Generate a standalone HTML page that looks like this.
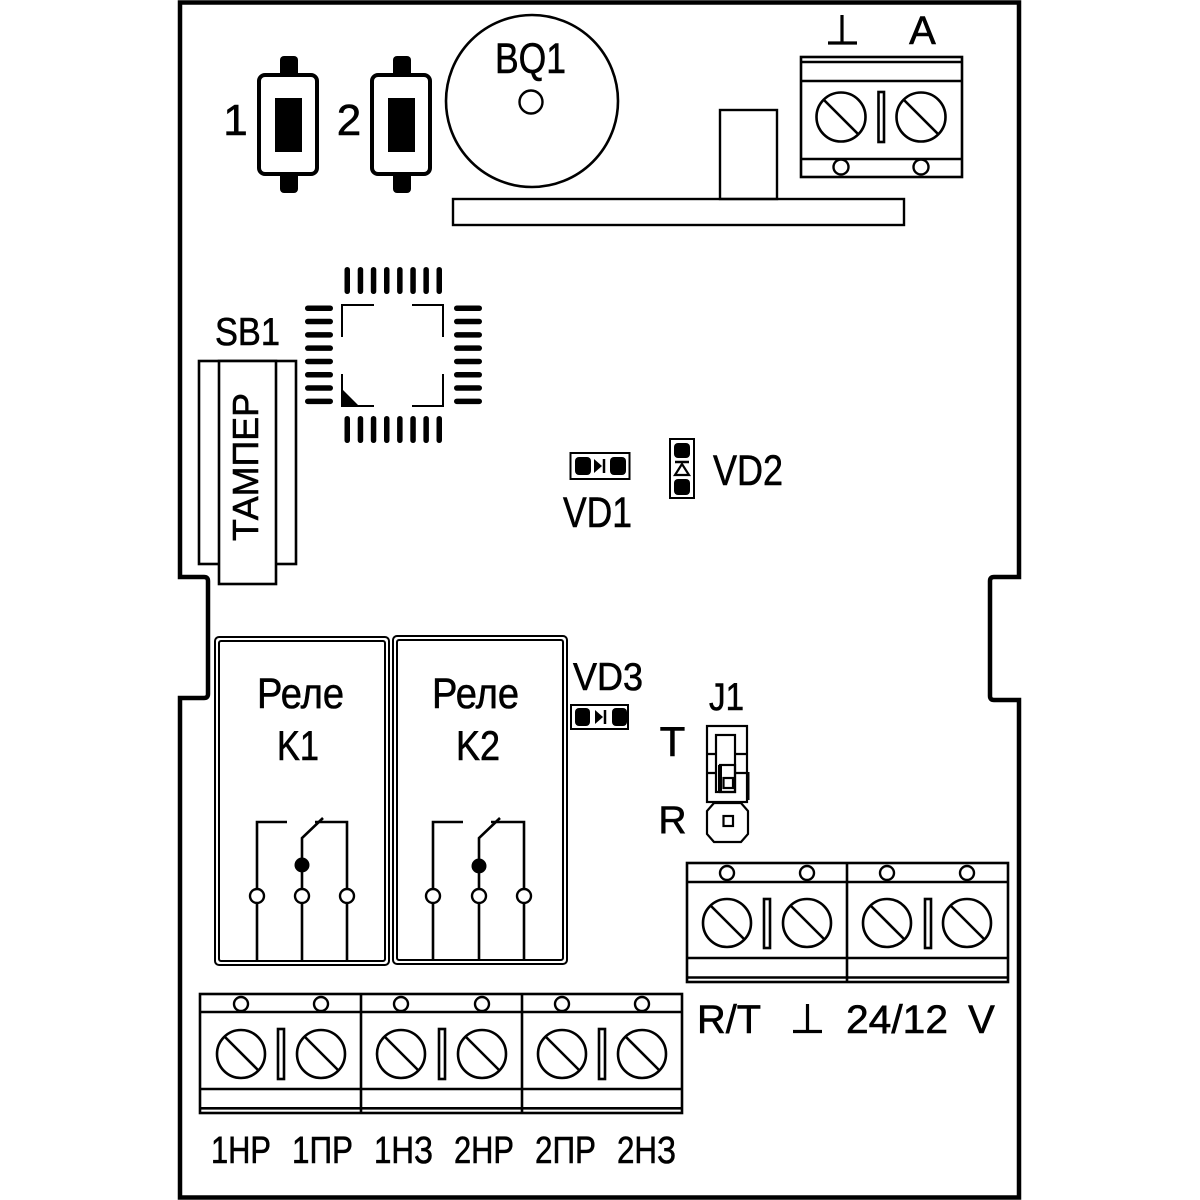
<!DOCTYPE html>
<html><head><meta charset="utf-8"><style>
html,body{margin:0;padding:0;background:#fff;}
svg{display:block;}
text{font-family:"Liberation Sans",Arial,sans-serif;fill:#000;stroke:#000;stroke-width:0.6px;}
</style></head><body>
<svg width="1200" height="1200" viewBox="0 0 1200 1200" xmlns="http://www.w3.org/2000/svg">
<rect width="1200" height="1200" fill="#fff"/>
<!-- board outline -->
<path d="M180,2.5 H1019 V577 H994 Q990,577 990,581 V696 Q990,700 994,700 H1019 V1197.5 H180 V698 H204 Q208,698 208,694 V581 Q208,577 204,577 H180 Z" fill="none" stroke="#000" stroke-width="4.5"/>

<!-- buttons -->
<g fill="#000">
<rect x="280" y="56" width="18" height="22" rx="4"/>
<rect x="280" y="170" width="18" height="23" rx="4"/>
<rect x="393" y="56" width="18" height="22" rx="4"/>
<rect x="393" y="170" width="18" height="23" rx="4"/>
</g>
<rect x="259" y="75" width="58" height="99" rx="6" fill="#fff" stroke="#000" stroke-width="4"/>
<rect x="372" y="75" width="58" height="99" rx="6" fill="#fff" stroke="#000" stroke-width="4"/>
<rect x="275" y="98" width="27" height="54" fill="#000"/>
<rect x="388" y="98" width="27" height="54" fill="#000"/>
<text x="235.5" y="135" font-size="44" text-anchor="middle">1</text>
<text x="349" y="135" font-size="44" text-anchor="middle">2</text>

<!-- BQ1 -->
<circle cx="532" cy="101" r="86" fill="none" stroke="#000" stroke-width="2.6"/>
<circle cx="531" cy="102" r="11.5" fill="none" stroke="#000" stroke-width="2.4"/>
<text x="495" y="73" font-size="43" textLength="71" lengthAdjust="spacingAndGlyphs">BQ1</text>
<rect x="453" y="199" width="451" height="26" fill="none" stroke="#000" stroke-width="2.4"/>
<rect x="720" y="110" width="57" height="89" fill="none" stroke="#000" stroke-width="2.4"/>

<!-- top terminal -->
<g fill="none" stroke="#000" stroke-width="2.6">
<rect x="801" y="57" width="161" height="120"/>
<line x1="801" y1="62" x2="962" y2="62"/>
<line x1="801" y1="81" x2="962" y2="81"/>
<line x1="801" y1="159" x2="962" y2="159"/>
<circle cx="841" cy="117" r="24.5"/>
<circle cx="921" cy="117" r="24.5"/>
<line x1="824" y1="100" x2="858" y2="134"/>
<line x1="904" y1="100" x2="938" y2="134"/>
<rect x="878.5" y="92" width="5.5" height="50"/>
</g>
<circle cx="841" cy="167" r="7.5" fill="#fff" stroke="#000" stroke-width="2.4"/>
<circle cx="921" cy="167" r="7.5" fill="#fff" stroke="#000" stroke-width="2.4"/>
<g stroke="#000" stroke-width="3.2" fill="none">
<line x1="842" y1="15" x2="842" y2="43"/>
<line x1="828" y1="43" x2="857" y2="43"/>
</g>
<text x="922.5" y="44" font-size="40" text-anchor="middle">A</text>

<!-- chip -->
<g fill="#000">
<rect x="344.5" y="267" width="5.5" height="27" rx="2.75"/>
<rect x="357.7" y="267" width="5.5" height="27" rx="2.75"/>
<rect x="370.8" y="267" width="5.5" height="27" rx="2.75"/>
<rect x="384" y="267" width="5.5" height="27" rx="2.75"/>
<rect x="397.1" y="267" width="5.5" height="27" rx="2.75"/>
<rect x="410.3" y="267" width="5.5" height="27" rx="2.75"/>
<rect x="423.4" y="267" width="5.5" height="27" rx="2.75"/>
<rect x="436.5" y="267" width="5.5" height="27" rx="2.75"/>
<rect x="344.5" y="416" width="5.5" height="27" rx="2.75"/>
<rect x="357.7" y="416" width="5.5" height="27" rx="2.75"/>
<rect x="370.8" y="416" width="5.5" height="27" rx="2.75"/>
<rect x="384" y="416" width="5.5" height="27" rx="2.75"/>
<rect x="397.1" y="416" width="5.5" height="27" rx="2.75"/>
<rect x="410.3" y="416" width="5.5" height="27" rx="2.75"/>
<rect x="423.4" y="416" width="5.5" height="27" rx="2.75"/>
<rect x="436.5" y="416" width="5.5" height="27" rx="2.75"/>
<rect x="305" y="305.5" width="28" height="5.5" rx="2.75"/>
<rect x="305" y="318.8" width="28" height="5.5" rx="2.75"/>
<rect x="305" y="332.1" width="28" height="5.5" rx="2.75"/>
<rect x="305" y="345.4" width="28" height="5.5" rx="2.75"/>
<rect x="305" y="358.7" width="28" height="5.5" rx="2.75"/>
<rect x="305" y="372" width="28" height="5.5" rx="2.75"/>
<rect x="305" y="385.3" width="28" height="5.5" rx="2.75"/>
<rect x="305" y="398.6" width="28" height="5.5" rx="2.75"/>
<rect x="454" y="305.5" width="28" height="5.5" rx="2.75"/>
<rect x="454" y="318.8" width="28" height="5.5" rx="2.75"/>
<rect x="454" y="332.1" width="28" height="5.5" rx="2.75"/>
<rect x="454" y="345.4" width="28" height="5.5" rx="2.75"/>
<rect x="454" y="358.7" width="28" height="5.5" rx="2.75"/>
<rect x="454" y="372" width="28" height="5.5" rx="2.75"/>
<rect x="454" y="385.3" width="28" height="5.5" rx="2.75"/>
<rect x="454" y="398.6" width="28" height="5.5" rx="2.75"/>
<polygon points="342,389 359,406 342,406"/>
</g>
<g fill="none" stroke="#000" stroke-width="2">
<polyline points="342,337 342,305 374,305"/>
<polyline points="412,305 443,305 443,337"/>
<polyline points="443,374 443,406 412,406"/>
<polyline points="342,374 342,406 374,406"/>
</g>

<!-- SB1 tamper -->
<text x="215" y="345" font-size="39" textLength="65" lengthAdjust="spacingAndGlyphs">SB1</text>
<rect x="199" y="361" width="97" height="203" fill="none" stroke="#000" stroke-width="2.6"/>
<rect x="219" y="361" width="57" height="223" fill="#fff" stroke="#000" stroke-width="2.6"/>
<text transform="translate(258,541) rotate(-90)" x="0" y="0" font-size="36" textLength="148" lengthAdjust="spacingAndGlyphs">ТАМПЕР</text>

<!-- VD1 -->
<rect x="570.5" y="453" width="59" height="26" fill="none" stroke="#000" stroke-width="2"/>
<rect x="575" y="457" width="16" height="18" rx="4" fill="#000"/>
<rect x="610" y="457" width="16" height="18" rx="4" fill="#000"/>
<polygon points="594,459 594,473 602,466" fill="#000"/>
<line x1="604" y1="459" x2="604" y2="473" stroke="#000" stroke-width="2.5"/>
<text x="563" y="527" font-size="43" textLength="69" lengthAdjust="spacingAndGlyphs">VD1</text>

<!-- VD2 -->
<rect x="670" y="439" width="24" height="59" fill="none" stroke="#000" stroke-width="2"/>
<rect x="674" y="443" width="16" height="15" rx="4" fill="#000"/>
<rect x="674" y="479" width="16" height="16" rx="4" fill="#000"/>
<line x1="675" y1="462" x2="689" y2="462" stroke="#000" stroke-width="2.5"/>
<polygon points="682,464 675,475 689,475" fill="none" stroke="#000" stroke-width="2.2"/>
<text x="713" y="485" font-size="43" textLength="70" lengthAdjust="spacingAndGlyphs">VD2</text>

<!-- Relays -->
<g fill="none" stroke="#000" stroke-width="2">
<rect x="215" y="637" width="174" height="328" rx="4"/>
<rect x="219" y="641" width="166" height="320" rx="2"/>
<rect x="393" y="636" width="174" height="328" rx="4"/>
<rect x="397" y="640" width="166" height="320" rx="2"/>
</g>
<text x="257" y="708" font-size="43" textLength="87" lengthAdjust="spacingAndGlyphs">Реле</text>
<text x="277" y="760" font-size="42" textLength="42" lengthAdjust="spacingAndGlyphs">K1</text>
<text x="432" y="708" font-size="43" textLength="87" lengthAdjust="spacingAndGlyphs">Реле</text>
<text x="456" y="760" font-size="42" textLength="44" lengthAdjust="spacingAndGlyphs">K2</text>
<g fill="none" stroke="#000" stroke-width="2.6">
<polyline points="257,960 257,822 287,822"/>
<polyline points="315,822 347,822 347,960"/>
<polyline points="302,960 302,838 323,818"/>
<polyline points="433,960 433,822 463,822"/>
<polyline points="491,822 524,822 524,960"/>
<polyline points="479,960 479,838 500,818"/>
</g>
<g fill="#000">
<circle cx="302" cy="865" r="7.5"/>
<circle cx="479" cy="866" r="7.5"/>
</g>
<g fill="#fff" stroke="#000" stroke-width="2.4">
<circle cx="257" cy="896" r="7"/>
<circle cx="302" cy="896" r="7"/>
<circle cx="347" cy="896" r="7"/>
<circle cx="433" cy="896" r="7"/>
<circle cx="479" cy="896" r="7"/>
<circle cx="524" cy="896" r="7"/>
</g>

<!-- VD3 -->
<text x="573" y="690" font-size="39" textLength="70" lengthAdjust="spacingAndGlyphs">VD3</text>
<rect x="571" y="705" width="57" height="24" fill="none" stroke="#000" stroke-width="2"/>
<rect x="575" y="708" width="15" height="18" rx="4" fill="#000"/>
<rect x="612" y="708" width="15" height="18" rx="4" fill="#000"/>
<polygon points="595,710 595,724 603,717" fill="#000"/>
<line x1="605" y1="710" x2="605" y2="724" stroke="#000" stroke-width="2.5"/>

<!-- J1 -->
<text x="709" y="710" font-size="39" textLength="35" lengthAdjust="spacingAndGlyphs">J1</text>
<text x="672.5" y="756" font-size="42" text-anchor="middle">T</text>
<text x="672.5" y="833" font-size="39" text-anchor="middle">R</text>
<g fill="none" stroke="#000" stroke-width="2.2">
<rect x="707" y="726" width="40" height="76"/>
<line x1="707" y1="754" x2="747" y2="754"/>
<line x1="707" y1="773" x2="747" y2="773"/>
<rect x="716" y="735" width="19" height="57" fill="#fff"/>
<rect x="720" y="765" width="15" height="27"/>
<rect x="723.5" y="778" width="9.5" height="10"/>
<polygon points="714,803 741,803 748,811 748,834 741,842 714,842 707,834 707,811"/>
<rect x="723.5" y="816" width="9.5" height="10"/>
</g>
<line x1="720" y1="765" x2="720" y2="792" stroke="#000" stroke-width="4"/>
<line x1="748" y1="772" x2="748" y2="800" stroke="#000" stroke-width="3"/>

<!-- right terminal -->
<g fill="none" stroke="#000" stroke-width="2.6">
<rect x="687" y="863" width="321" height="119"/>
<line x1="847" y1="863" x2="847" y2="982"/>
<line x1="687" y1="882" x2="1008" y2="882"/>
<line x1="687" y1="958" x2="1008" y2="958"/>
<line x1="687" y1="977.5" x2="1008" y2="977.5"/>
<circle cx="727" cy="923" r="24"/>
<circle cx="807" cy="923" r="24"/>
<circle cx="887" cy="923" r="24"/>
<circle cx="967" cy="923" r="24"/>
<line x1="711" y1="906" x2="744" y2="939"/>
<line x1="791" y1="906" x2="824" y2="939"/>
<line x1="871" y1="906" x2="904" y2="939"/>
<line x1="951" y1="906" x2="984" y2="939"/>
<rect x="764" y="899" width="6" height="49"/>
<rect x="925" y="899" width="6" height="49"/>
</g>
<g fill="#fff" stroke="#000" stroke-width="2.4">
<circle cx="727" cy="873" r="7"/>
<circle cx="807" cy="873" r="7"/>
<circle cx="887" cy="873" r="7"/>
<circle cx="967" cy="873" r="7"/>
</g>
<text x="697" y="1033" font-size="40" textLength="64" lengthAdjust="spacingAndGlyphs">R/T</text>
<g stroke="#000" stroke-width="3.2" fill="none">
<line x1="807.5" y1="1004" x2="807.5" y2="1031"/>
<line x1="793" y1="1031.5" x2="822" y2="1031.5"/>
</g>
<text x="846" y="1033" font-size="40" textLength="102" lengthAdjust="spacingAndGlyphs">24/12</text>
<text x="981.5" y="1033" font-size="40" text-anchor="middle">V</text>

<!-- bottom terminal -->
<g fill="none" stroke="#000" stroke-width="2.6">
<rect x="200" y="994" width="482" height="119"/>
<line x1="361" y1="994" x2="361" y2="1113"/>
<line x1="522" y1="994" x2="522" y2="1113"/>
<line x1="200" y1="1012" x2="682" y2="1012"/>
<line x1="200" y1="1089" x2="682" y2="1089"/>
<line x1="200" y1="1108.3" x2="682" y2="1108.3"/>
<circle cx="241" cy="1054" r="24"/>
<circle cx="321" cy="1054" r="24"/>
<circle cx="401" cy="1054" r="24"/>
<circle cx="482" cy="1054" r="24"/>
<circle cx="562" cy="1054" r="24"/>
<circle cx="642" cy="1054" r="24"/>
<line x1="225" y1="1037" x2="258" y2="1070"/>
<line x1="305" y1="1037" x2="338" y2="1070"/>
<line x1="385" y1="1037" x2="418" y2="1070"/>
<line x1="466" y1="1037" x2="499" y2="1070"/>
<line x1="546" y1="1037" x2="579" y2="1070"/>
<line x1="626" y1="1037" x2="659" y2="1070"/>
<rect x="278" y="1029" width="6" height="50"/>
<rect x="439" y="1029" width="6" height="50"/>
<rect x="599" y="1029" width="6" height="50"/>
</g>
<g fill="#fff" stroke="#000" stroke-width="2.4">
<circle cx="241" cy="1004" r="7"/>
<circle cx="321" cy="1004" r="7"/>
<circle cx="401" cy="1004" r="7"/>
<circle cx="482" cy="1004" r="7"/>
<circle cx="562" cy="1004" r="7"/>
<circle cx="642" cy="1004" r="7"/>
</g>
<g font-size="38">
<text x="211" y="1163" textLength="60" lengthAdjust="spacingAndGlyphs">1НР</text>
<text x="292" y="1163" textLength="61" lengthAdjust="spacingAndGlyphs">1ПР</text>
<text x="374" y="1163" textLength="59" lengthAdjust="spacingAndGlyphs">1НЗ</text>
<text x="454" y="1163" textLength="60" lengthAdjust="spacingAndGlyphs">2НР</text>
<text x="535" y="1163" textLength="61" lengthAdjust="spacingAndGlyphs">2ПР</text>
<text x="617" y="1163" textLength="59" lengthAdjust="spacingAndGlyphs">2НЗ</text>
</g>
</svg>
</body></html>
